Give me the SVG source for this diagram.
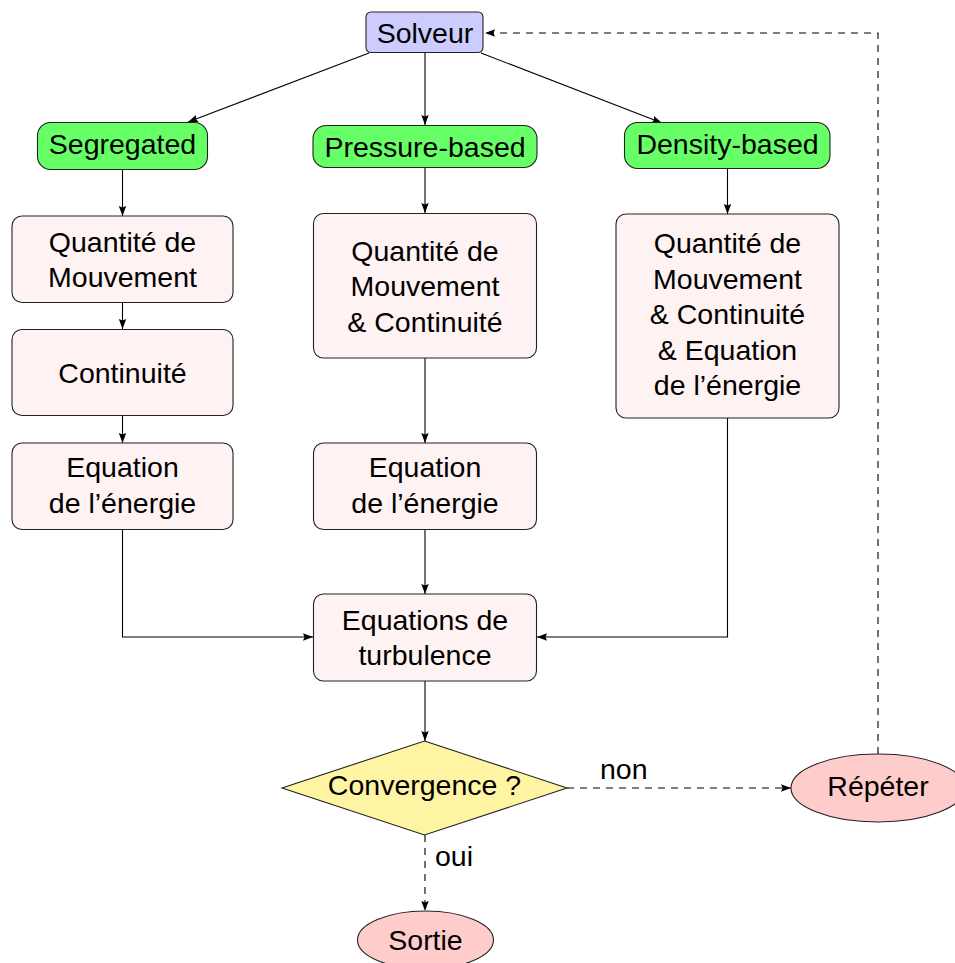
<svg xmlns="http://www.w3.org/2000/svg" width="955" height="963" viewBox="0 0 955 963">
<style>
text{font-family:"Liberation Sans",Arial,sans-serif;font-size:28.5px;fill:#000;text-anchor:middle}
.lbl{text-anchor:start}
.box{fill:#fff2f2;stroke:#222;stroke-width:1.1}
.grn{fill:#66ff66;stroke:#222;stroke-width:1.1}
.blu{fill:#ccccff;stroke:#222;stroke-width:1.1}
.ell{fill:#ffcccc;stroke:#222;stroke-width:1.1}
.dia{fill:#fff4a3;stroke:#222;stroke-width:1.1}
.c{fill:none;stroke:#000;stroke-width:1.1;marker-end:url(#ah)}
.d{stroke-dasharray:7 6}
</style>
<defs>
<marker id="ah" markerUnits="userSpaceOnUse" markerWidth="12" markerHeight="10" refX="10" refY="4" orient="auto">
<path d="M0,0.3 L10,4 L0,7.7 L1.5,4 Z" fill="#000"/>
</marker>
</defs>
<rect width="955" height="963" fill="#fff"/>
<g id="connectors">
<line class="c" x1="369" y1="53" x2="188" y2="122"/>
<line class="c" x1="425" y1="53" x2="425" y2="125"/>
<line class="c" x1="481" y1="53" x2="662" y2="123"/>
<line class="c" x1="122.5" y1="170" x2="122.5" y2="216"/>
<line class="c" x1="122.5" y1="302" x2="122.5" y2="329"/>
<line class="c" x1="122.5" y1="416" x2="122.5" y2="443"/>
<polyline class="c" points="122.5,530 122.5,637 313,637"/>
<line class="c" x1="425" y1="168" x2="425" y2="213"/>
<line class="c" x1="425" y1="358" x2="425" y2="443"/>
<line class="c" x1="425" y1="530" x2="425" y2="594"/>
<line class="c" x1="727.5" y1="169" x2="727.5" y2="214"/>
<polyline class="c" points="727.5,418 727.5,637 537,637"/>
<line class="c" x1="425" y1="681" x2="425" y2="741"/>
<line class="c d" x1="567" y1="788" x2="791" y2="788"/>
<line class="c d" x1="425" y1="835" x2="425" y2="911"/>
<polyline class="c d" points="878,754 878,33 485,33"/>
<text class="lbl" x="600" y="779">non</text>
<text class="lbl" x="435" y="866">oui</text>
</g>
<g id="solveur">
<rect class="blu" x="366" y="12" width="117" height="40.5" rx="5"/>
<text x="425" y="42.5">Solveur</text>
</g>
<g id="segregated">
<rect class="grn" x="37.5" y="122.5" width="170" height="47" rx="13"/>
<text x="122.5" y="154">Segregated</text>
</g>
<g id="pressure">
<rect class="grn" x="313" y="125.5" width="224" height="42" rx="13"/>
<text x="425" y="156.5">Pressure-based</text>
</g>
<g id="density">
<rect class="grn" x="624.5" y="122.5" width="205.5" height="46" rx="13"/>
<text x="727.5" y="153.5">Density-based</text>
</g>
<g id="seg-qdm">
<rect class="box" x="12" y="216" width="221" height="86.5" rx="10"/>
<text x="122.5" y="251.5">Quantité de</text>
<text x="122.5" y="287">Mouvement</text>
</g>
<g id="seg-cont">
<rect class="box" x="12" y="329.5" width="221" height="86" rx="10"/>
<text x="122.5" y="383">Continuité</text>
</g>
<g id="seg-energie">
<rect class="box" x="12" y="443" width="221" height="86.5" rx="10"/>
<text x="122.5" y="477">Equation</text>
<text x="122.5" y="512.5">de l’énergie</text>
</g>
<g id="pb-qdm">
<rect class="box" x="313.5" y="213.5" width="223" height="144.5" rx="10"/>
<text x="425" y="260.5">Quantité de</text>
<text x="425" y="296">Mouvement</text>
<text x="425" y="331.5">&amp; Continuité</text>
</g>
<g id="pb-energie">
<rect class="box" x="313.5" y="443" width="223" height="86.5" rx="10"/>
<text x="425" y="477">Equation</text>
<text x="425" y="512.5">de l’énergie</text>
</g>
<g id="db-all">
<rect class="box" x="616" y="214" width="223" height="204" rx="10"/>
<text x="727.5" y="253">Quantité de</text>
<text x="727.5" y="288.5">Mouvement</text>
<text x="727.5" y="324">&amp; Continuité</text>
<text x="727.5" y="359.5">&amp; Equation</text>
<text x="727.5" y="395">de l’énergie</text>
</g>
<g id="turbulence">
<rect class="box" x="313.5" y="594" width="223" height="87" rx="10"/>
<text x="425" y="629.5">Equations de</text>
<text x="425" y="665">turbulence</text>
</g>
<g id="convergence">
<polygon class="dia" points="424.5,741 567,788 424.5,835 282,788"/>
<text x="424.5" y="795">Convergence ?</text>
</g>
<g id="repeter">
<ellipse class="ell" cx="878" cy="788" rx="87" ry="34"/>
<text x="878" y="796">Répéter</text>
</g>
<g id="sortie">
<ellipse class="ell" cx="425.5" cy="940" rx="68" ry="29"/>
<text x="425.5" y="950">Sortie</text>
</g>
</svg>
